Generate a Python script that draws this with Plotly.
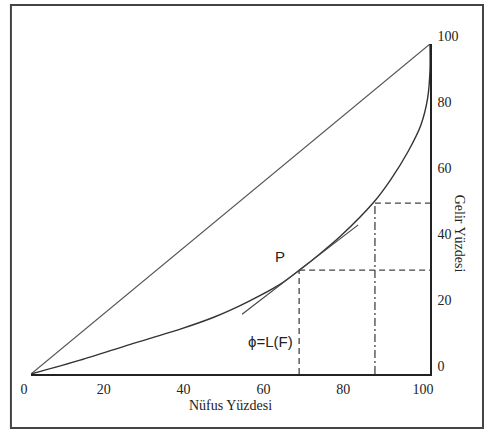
import plotly.graph_objects as go

# Lorenz curve (Nüfus % vs Gelir %)
lorenz_x = [0, 12.3, 24.9, 37.4, 45.8, 54.2, 62.6, 67.2, 72.6, 77.6, 86.0, 90.2, 94.4, 97.7, 99.4, 100, 100]
lorenz_y = [0, 4.2, 9.0, 13.6, 17.2, 21.8, 27.3, 31.4, 36.6, 41.8, 52.2, 59.0, 67.2, 75.4, 83.5, 92.0, 100]

# equality diagonal
diag_x = [0, 100]
diag_y = [0, 100]

# point P and second reference point
p_x, p_y = 67.2, 31.5
q_x, q_y = 86.2, 51.8

# tangent line at P
tan_x = [52.9, 82.0]
tan_y = [18.1, 45.2]

tick_vals = [0, 20, 40, 60, 80, 100]
tick_text = ["0", "20", "40", "60", "80", "100"]

serif = "Liberation Serif, Times New Roman, serif"
sans = "Liberation Sans, Arial, sans-serif"

fig = go.Figure()

fig.add_trace(go.Scatter(x=diag_x, y=diag_y, mode="lines",
                         line=dict(color="#555555", width=1.2), hoverinfo="skip"))
fig.add_trace(go.Scatter(x=lorenz_x, y=lorenz_y, mode="lines",
                         line=dict(color="#333333", width=1.4, shape="spline", smoothing=0.8),
                         hoverinfo="skip"))
fig.add_trace(go.Scatter(x=tan_x, y=tan_y, mode="lines",
                         line=dict(color="#444444", width=1.1), hoverinfo="skip"))

# dashed guide lines
fig.add_trace(go.Scatter(x=[p_x, p_x], y=[0, p_y], mode="lines",
                         line=dict(color="#444444", width=1.3, dash="6px,4px"), hoverinfo="skip"))
fig.add_trace(go.Scatter(x=[p_x, 100], y=[p_y, p_y], mode="lines",
                         line=dict(color="#444444", width=1.3, dash="6px,4px"), hoverinfo="skip"))
fig.add_trace(go.Scatter(x=[q_x, q_x], y=[0, q_y], mode="lines",
                         line=dict(color="#444444", width=1.3, dash="8px,3px,2px,3px"), hoverinfo="skip"))
fig.add_trace(go.Scatter(x=[q_x, 100], y=[q_y, q_y], mode="lines",
                         line=dict(color="#444444", width=1.3, dash="6px,4px"), hoverinfo="skip"))

fig.add_annotation(x=62.3, y=35.5, text="P", showarrow=False,
                   font=dict(family=sans, size=15, color="#222222"))
fig.add_annotation(x=60, y=10, text="ϕ=L(F)", showarrow=False,
                   font=dict(family=sans, size=15, color="#222222"))
fig.add_annotation(xref="paper", yref="paper", x=1.1, y=0.424, text="Gelir Yüzdesi",
                   showarrow=False, textangle=90,
                   font=dict(family=serif, size=14, color="#222222"))

# outer frame
fig.add_shape(type="rect", xref="paper", yref="paper",
              x0=-0.0503, x1=1.1328, y0=-0.1636, y1=1.118,
              line=dict(color="#444444", width=2))

fig.update_layout(
    width=485, height=430,
    margin=dict(l=31, r=55, t=44, b=56),
    paper_bgcolor="white", plot_bgcolor="white",
    showlegend=False,
    xaxis=dict(range=[0, 100], tickvals=tick_vals, ticktext=tick_text,
               showgrid=False, zeroline=False, showline=True, linecolor="#222222",
               linewidth=1.5, ticks="", ticklabelshift=-7, ticklabelstandoff=1,
               tickfont=dict(family=serif, size=14, color="#222222"),
               title=dict(text="Nüfus Yüzdesi", standoff=5,
                          font=dict(family=serif, size=14, color="#222222")),
               automargin=False, fixedrange=True),
    yaxis=dict(range=[0, 100], tickvals=tick_vals, ticktext=tick_text, side="right",
               showgrid=False, zeroline=False, showline=True, linecolor="#222222",
               linewidth=1.5, ticks="", ticklabelshift=-8, ticklabelstandoff=3,
               tickfont=dict(family=serif, size=14, color="#222222"),
               automargin=False, fixedrange=True),
)

fig.write_html("out.html", config={"displayModeBar": False},
               post_script="document.body.style.margin='0';")
